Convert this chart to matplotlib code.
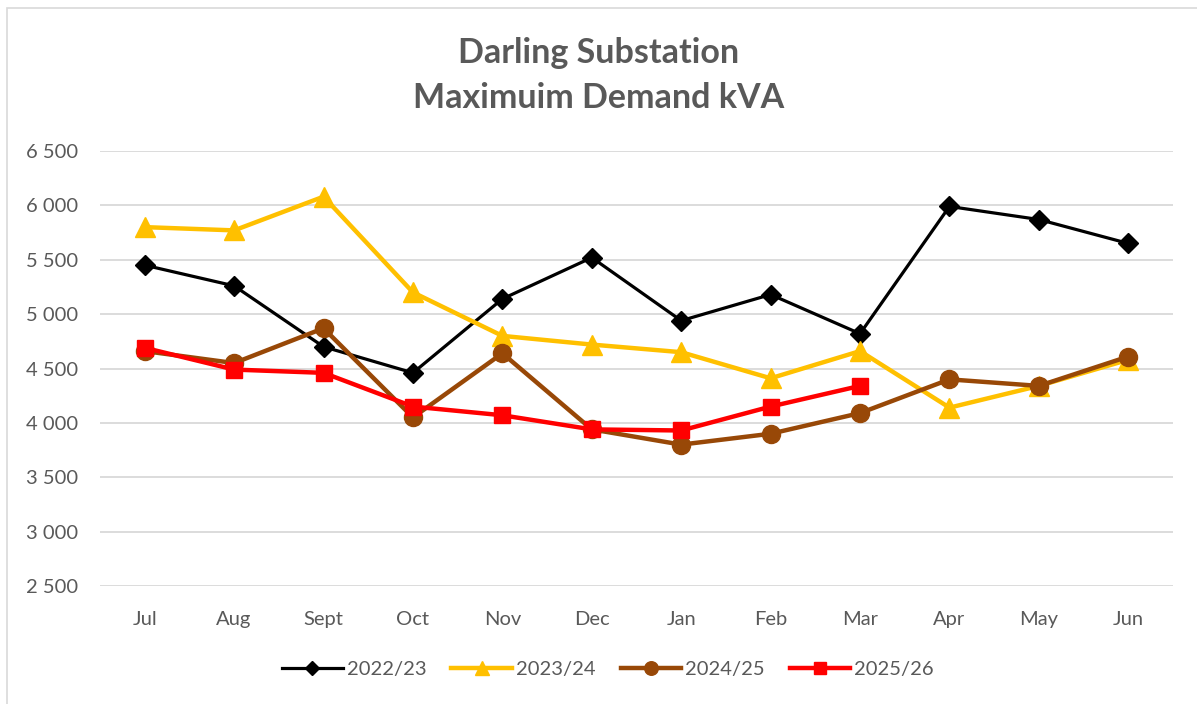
import matplotlib
matplotlib.use("Agg")
import matplotlib.pyplot as plt
from matplotlib.patches import Rectangle
from matplotlib.ticker import FuncFormatter

months = ["Jul", "Aug", "Sept", "Oct", "Nov", "Dec", "Jan", "Feb", "Mar", "Apr", "May", "Jun"]
s2022 = [5450, 5260, 4700, 4460, 5140, 5520, 4940, 5180, 4820, 5990, 5870, 5650]
s2023 = [5800, 5770, 6080, 5200, 4800, 4720, 4650, 4410, 4660, 4140, 4340, 4580]
s2024 = [4660, 4550, 4870, 4050, 4640, 3940, 3800, 3900, 4090, 4400, 4340, 4610]
s2025 = [4690, 4490, 4460, 4150, 4070, 3940, 3930, 4150, 4340]
labels = ["2022/23", "2023/24", "2024/25", "2025/26"]

plt.rcParams['font.family'] = ['Lato', 'DejaVu Sans']
grey = "#595959"

fig = plt.figure(figsize=(11.97, 7.04), dpi=100)
fig.patches.append(Rectangle((7/1197, -0.01), 1.02, 1 - 8/704 + 0.01, transform=fig.transFigure,
                             fill=False, edgecolor="#D9D9D9", linewidth=1.2))
ax = fig.add_axes([100/1197, 1 - 586/704, (1173 - 100)/1197, (586 - 151)/704])

x = list(range(len(months)))
ax.plot(x, s2022, color="black", lw=2.3, marker="D", ms=10, label=labels[0], zorder=3)
ax.plot(x, s2023, color="#FFC000", lw=3.2, marker="^", ms=14, label=labels[1], zorder=4)
ax.plot(x, s2024, color="#984807", lw=3.2, marker="o", ms=13, label=labels[2], zorder=5)
ax.plot(x[:len(s2025)], s2025, color="#FF0000", lw=3.2, marker="s", ms=12, label=labels[3], zorder=6)

ax.set_xlim(-0.5, 11.5)
ax.set_ylim(2500, 6500)
ax.set_yticks(range(2500, 6501, 500))
ax.yaxis.set_major_formatter(FuncFormatter(lambda v, p: f"{int(v):,}".replace(",", " ")))
ax.set_xticks(x)
ax.set_xticklabels(months)
ax.grid(axis="y", color="#D9D9D9", lw=1.3)
ax.set_axisbelow(True)
for s in ax.spines.values():
    s.set_visible(False)
ax.tick_params(axis="both", length=0, labelsize=14.5, colors=grey)
ax.tick_params(axis="y", pad=16)
ax.tick_params(axis="x", pad=18)

fig.text(0.5, 1 - 53/704, "Darling Substation", ha="center", va="center",
         fontsize=24.5, fontweight="bold", color=grey)
fig.text(0.5, 1 - 98/704, "Maximuim Demand kVA", ha="center", va="center",
         fontsize=24.5, fontweight="bold", color=grey)

leg = fig.legend(loc="center", bbox_to_anchor=(0.508, 1 - 669/704), ncol=4, frameon=False,
                 fontsize=14.5, handlelength=3, columnspacing=1.25, handletextpad=0.2,
                 markerscale=0.75)
for t in leg.get_texts():
    t.set_color(grey)

fig.savefig("out.png", dpi=100)
